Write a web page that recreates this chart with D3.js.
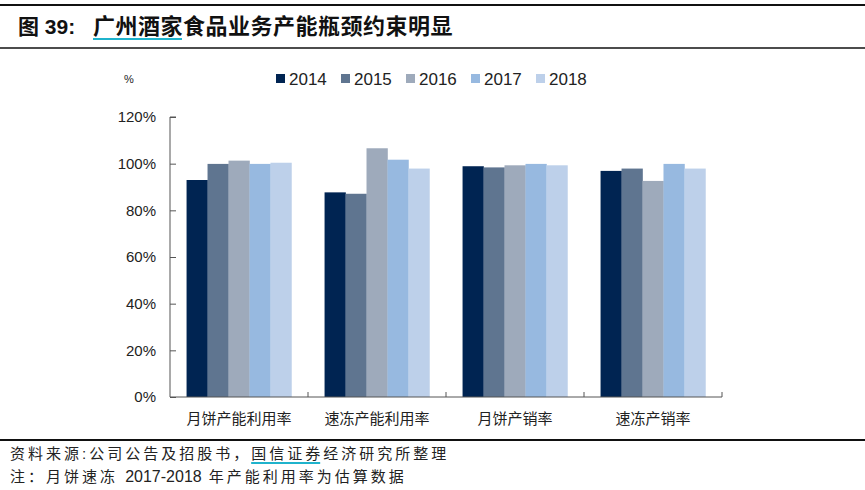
<!DOCTYPE html>
<html lang="zh">
<head>
<meta charset="UTF-8">
<title>广州酒家食品业务产能瓶颈约束明显</title>
<script src="https://d3js.org/d3.v7.min.js"></script>
<style>
  body { margin: 0; background: #fff; }
  text { font-family: "Liberation Sans", Arial, "Noto Sans CJK SC", sans-serif; }
  .cjk { font-family: "Liberation Sans", "Noto Sans CJK SC", sans-serif; }
</style>
</head>
<body>
<svg id="chart" width="865" height="490"></svg>
<script>
const categories = ["月饼产能利用率", "速冻产能利用率", "月饼产销率", "速冻产销率"]
const years = ["2014", "2015", "2016", "2017", "2018"]
const values2014 = [93.0, 87.7, 98.9, 96.9]
const values2015 = [99.9, 87.1, 98.4, 97.9]
const values2016 = [101.3, 106.6, 99.3, 92.6]
const values2017 = [99.9, 101.7, 99.9, 99.9]
const values2018 = [100.4, 97.9, 99.3, 97.9]
const yTicks = [0, 20, 40, 60, 80, 100, 120]
const colors = ["#002452", "#5f7590", "#9eaabb", "#97b9e0", "#bdd0ea"]

const series = [values2014, values2015, values2016, values2017, values2018]
const rows = categories.map((c, i) => ({ cat: c, vals: years.map((y, j) => ({ year: y, v: series[j][i] })) }))

const svg = d3.select("#chart")

// header / footer rules
svg.append("line").attr("x1", 0).attr("x2", 865).attr("y1", 5).attr("y2", 5)
  .attr("stroke", "#111").attr("stroke-width", 2)
svg.append("line").attr("x1", 0).attr("x2", 865).attr("y1", 48).attr("y2", 48)
  .attr("stroke", "#111").attr("stroke-width", 1.5)
svg.append("line").attr("x1", 0).attr("x2", 865).attr("y1", 440).attr("y2", 440)
  .attr("stroke", "#111").attr("stroke-width", 2)

svg.append("text").attr("x", 18).attr("y", 34)
  .attr("font-size", 21).attr("font-weight", "bold").attr("fill", "#111")
  .attr("class", "cjk").text("图 39:")
svg.append("text").attr("x", 93).attr("y", 34)
  .attr("font-size", 22).attr("font-weight", "bold").attr("fill", "#111")
  .attr("letter-spacing", 0.5)
  .attr("class", "cjk").text("广州酒家食品业务产能瓶颈约束明显")
svg.append("line").attr("x1", 93).attr("x2", 182).attr("y1", 39).attr("y2", 39)
  .attr("stroke", "#1fb3cc").attr("stroke-width", 2)

const src = svg.append("text").attr("x", 10).attr("y", 459)
  .attr("font-size", 15).attr("fill", "#222").attr("class", "cjk")
  .attr("letter-spacing", 3)
  .text("资料来源:公司公告及招股书，国信证券经济研究所整理")
const sn = src.node()
const ux0 = sn.getStartPositionOfChar(14).x
const ux1 = sn.getEndPositionOfChar(17).x
svg.append("line").attr("x1", ux0).attr("x2", ux1 - 3).attr("y1", 463).attr("y2", 463)
  .attr("stroke", "#1fb3cc").attr("stroke-width", 2)
const note = svg.append("text").attr("x", 10).attr("y", 482)
  .attr("font-size", 15).attr("fill", "#222").attr("class", "cjk")
note.append("tspan").attr("letter-spacing", 3).text("注：月饼速冻 ")
note.append("tspan").attr("font-size", 16).text("2017-2018")
note.append("tspan").attr("letter-spacing", 3).text(" 年产能利用率为估算数据")

// scales
const plotL = 170, plotR = 722, plotT = 117, plotB = 397
const x = d3.scaleBand().domain(categories).range([plotL, plotR]).paddingInner(0.24).paddingOuter(0.12)
const xs = d3.scaleBand().domain(years).range([0, x.bandwidth()]).padding(0)
const y = d3.scaleLinear().domain([0, 120]).range([plotB, plotT])

// bars
const groups = svg.append("g").selectAll("g").data(rows).enter().append("g")
  .attr("transform", d => `translate(${x(d.cat)},0)`)
groups.selectAll("rect").data(d => d.vals).enter().append("rect")
  .attr("x", d => xs(d.year))
  .attr("y", d => y(d.v))
  .attr("width", xs.bandwidth() + 0.3)
  .attr("height", d => plotB - y(d.v))
  .attr("fill", (d, i) => colors[i])

// y axis
const yAxis = svg.append("g").attr("transform", `translate(${plotL},0)`)
  .call(d3.axisRight(y).tickValues(yTicks).tickSize(6).tickFormat(d => d + "%"))
yAxis.select(".domain").attr("stroke", "#555").attr("d", `M6,${plotT}H0V${plotB}`)
yAxis.selectAll(".tick line").attr("stroke", "#555")
yAxis.selectAll(".tick text").attr("x", -14).attr("text-anchor", "end")
  .attr("font-size", 15).attr("fill", "#222")

// x axis with boundary ticks pointing up
const xAxis = svg.append("g").attr("transform", `translate(0,${plotB})`)
xAxis.append("line").attr("x1", plotL).attr("x2", plotR).attr("stroke", "#555")
const bounds = [plotR].concat(categories.slice(1).map(c => x(c) - x.step() * x.paddingInner() / 2))
xAxis.selectAll(".bt").data(bounds).enter().append("line")
  .attr("x1", d => d).attr("x2", d => d).attr("y1", 0).attr("y2", -5).attr("stroke", "#555")
xAxis.selectAll(".cl").data(categories).enter().append("text")
  .attr("class", "cjk")
  .attr("x", d => x(d) + x.bandwidth() / 2).attr("y", 27)
  .attr("text-anchor", "middle").attr("font-size", 15).attr("fill", "#222")
  .text(d => d)

// unit + legend
svg.append("text").attr("x", 124).attr("y", 83).attr("font-size", 11).attr("fill", "#222").text("%")
const legend = svg.append("g").selectAll("g").data(years).enter().append("g")
  .attr("transform", (d, i) => `translate(${276 + i * 65},74)`)
legend.append("rect").attr("width", 9).attr("height", 9).attr("fill", (d, i) => colors[i])
legend.append("text").attr("x", 13).attr("y", 10.5).attr("font-size", 17).attr("fill", "#222").text(d => d)
</script>
</body>
</html>
